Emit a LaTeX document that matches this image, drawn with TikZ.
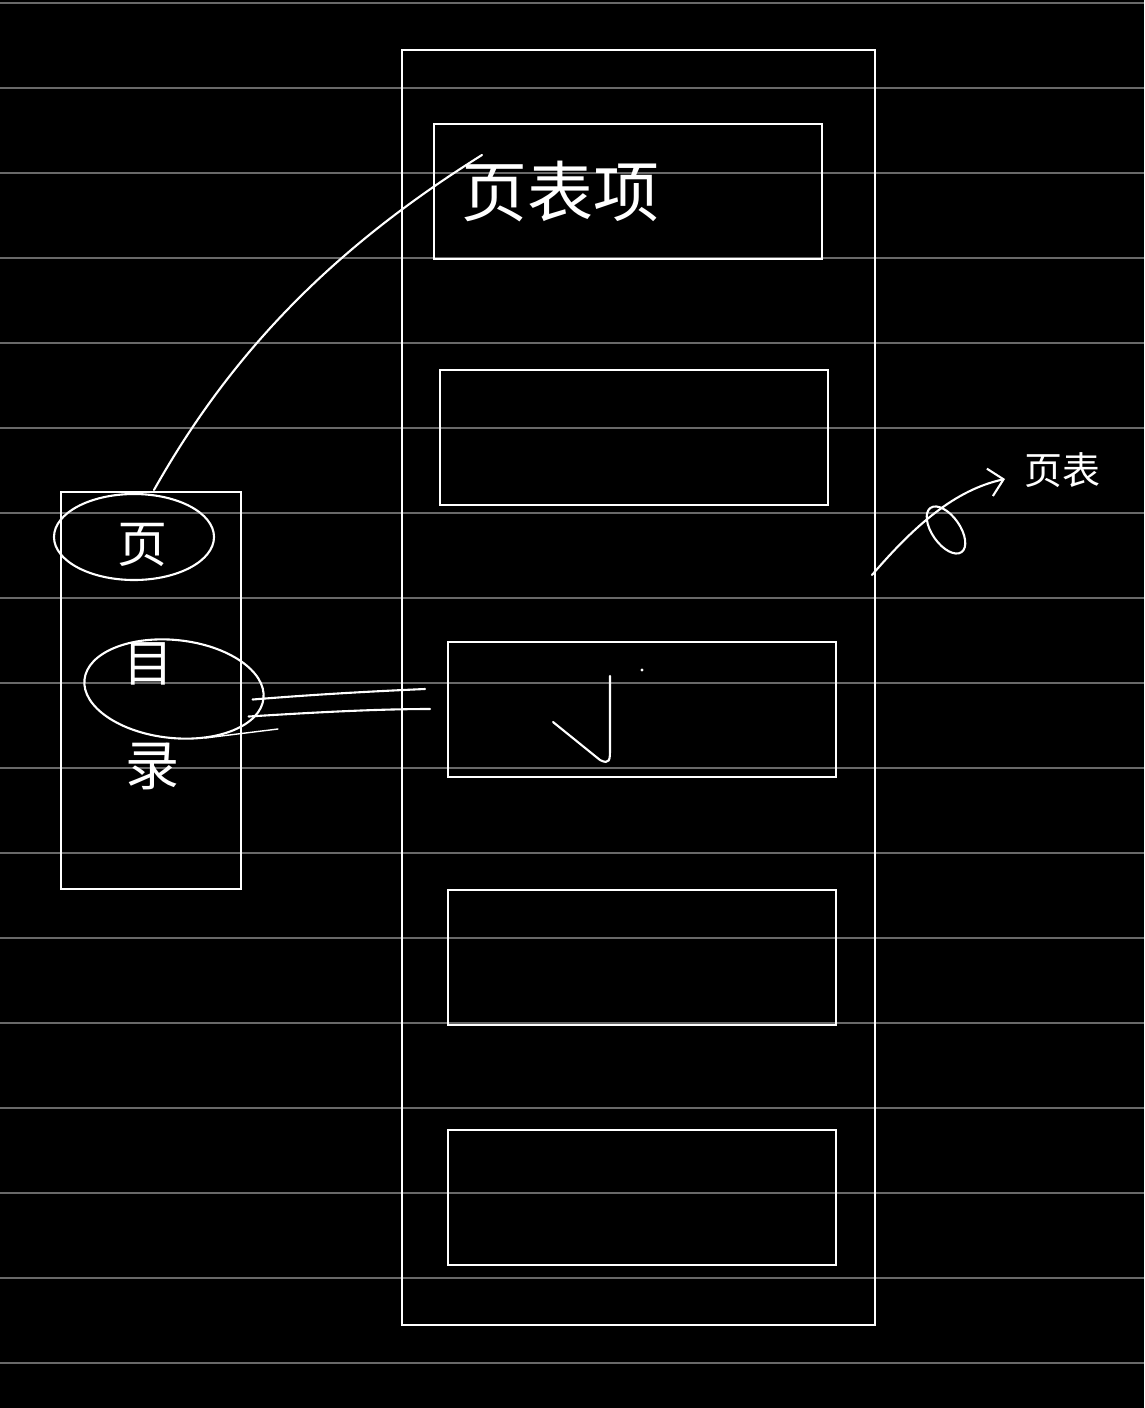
\documentclass[tikz,border=0pt]{standalone}
\usepackage{fontspec}
\newfontfamily\cjk{Noto Sans CJK SC}
\usetikzlibrary{shapes.geometric,arrows.meta}
\definecolor{rule}{RGB}{105,105,105}
\begin{document}
\begin{tikzpicture}[x=1pt,y=-1pt,
  pen/.style={draw=white,line width=2.1pt,line cap=round,line join=round},
  box/.style={draw=white,line width=2pt,fill=none,inner sep=0pt},
  ring/.style={ellipse,draw=white,line width=2.1pt,inner sep=0pt},
  hand/.style={text=white,font=\cjk,inner sep=0pt}]
\fill[black] (0,0) rectangle (1144,1408);
\useasboundingbox (0,0) rectangle (1144,1408);
% ruled lines
\foreach \k in {0,...,16}{
  \draw[rule,line width=1.4pt] (0,3+85*\k) -- (1144,3+85*\k);
}
% big column
\node[box,minimum width=473pt,minimum height=1275pt] (col) at (638.5,687.5) {};
\node[box,minimum width=388pt,minimum height=135pt] (b1) at (628,191.5) {};
\node[box,minimum width=388pt,minimum height=135pt] (b2) at (634,437.5) {};
\node[box,minimum width=388pt,minimum height=135pt] (b3) at (642,709.5) {};
\node[box,minimum width=388pt,minimum height=135pt] (b4) at (642,957.5) {};
\node[box,minimum width=388pt,minimum height=135pt] (b5) at (642,1197.5) {};
% left directory box
\node[box,minimum width=180pt,minimum height=397pt] (dir) at (151,690.5) {};
% texts
\node[hand,font=\cjk\fontsize{66}{68}\selectfont] (pte) at (560,192) {页表项};
\node[hand,font=\cjk\fontsize{38}{40}\selectfont] (pt) at (1062,470) {页表};
\node[hand,font=\cjk\fontsize{50}{52}\selectfont] (c1) at (142,545) {页};
\node[hand,font=\cjk\fontsize{50}{52}\selectfont] (c2) at (148,664) {目};
\node[hand,font=\cjk\fontsize{54}{56}\selectfont] (c3) at (152,766) {录};
% rings
\node[ring,minimum width=160pt,minimum height=86pt] (e1) at (134,537) {};
\node[ring,minimum width=180pt,minimum height=98pt,rotate=-6] (e2) at (174,689) {};
\draw[pen,line width=1.4pt] (205,738) -- (278,729);
% check mark in b3
\draw[pen] (553,722) -- (600,760) .. controls (610,765) and (610,760) .. (610,748) -- (610,676);
\fill[white] (642,670) circle (1.6pt);
% curve from page directory to page table entry
\coordinate (t1) at (482,155);
\draw[pen] (e1.north) ++(20,-3) .. controls (230,355) and (330,250) .. (t1);
% double lines from directory entry to table
\coordinate (d1) at (425,689);
\coordinate (d2) at (430,709);
\draw[pen] (e2.east) ++(-12,1) .. controls (320,694) and (380,691) .. (d1);
\draw[pen] (e2.east) ++(-16,18) .. controls (320,712) and (380,709) .. (d2);
% right arrow to page table
\coordinate (r0) at (872,575);
\coordinate (rt) at (1005,479);
\draw[pen,-{Straight Barb[length=14pt,width=28pt,line width=2.1pt]}] (r0) .. controls (915,525) and (955,490) .. (rt);
\draw[pen,rotate around={35:(946,530)}] (946,530) ellipse (14 and 27);
\end{tikzpicture}
\end{document}
